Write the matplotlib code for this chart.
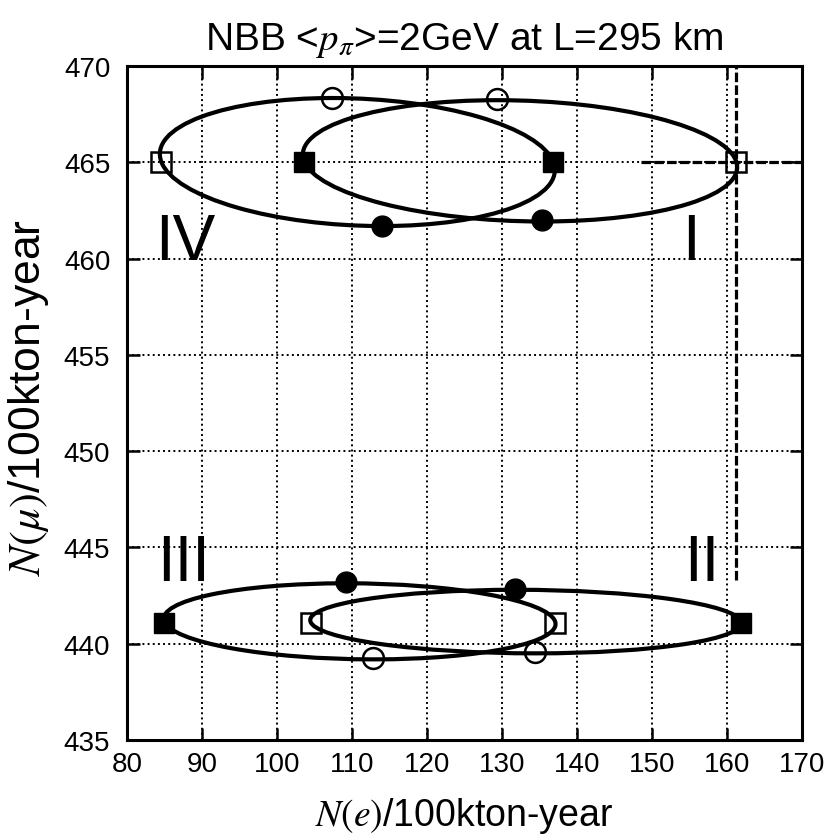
import numpy as np
import matplotlib.pyplot as plt
from matplotlib.patches import Circle
from matplotlib.transforms import Affine2D

plt.rcParams['font.family'] = ['Liberation Sans', 'DejaVu Sans']
plt.rcParams['mathtext.fontset'] = 'stix'

# four delta points of each ellipse
names = ['I', 'II', 'III', 'IV']
open_sq_x = [161.2, 104.5, 137.1, 84.6]
open_sq_y = [465.0, 441.1, 441.1, 465.0]
fill_sq_x = [103.6, 161.9, 85.0, 136.85]
fill_sq_y = [465.0, 441.1, 441.1, 465.0]
open_ci_x = [129.4, 134.45, 112.85, 107.4]
open_ci_y = [468.3, 439.55, 439.25, 468.35]
fill_ci_x = [135.4, 131.8, 109.15, 114.0]
fill_ci_y = [462.0, 442.85, 443.2, 461.7]

# label positions of the roman numerals
label_x = [154.0, 154.3, 84.0, 83.8]
label_y = [460.0, 443.3, 443.3, 460.0]

# dashed cross at the true point
cross_x = 161.2
cross_y = 465.0
cross_hx0 = 148.5
cross_vy0 = 443.3

fig = plt.figure(figsize=(8.29, 8.37), dpi=100)
ax = fig.add_axes([127/829, 1-741/837, 675/829, 674/837])
ax.set_xlim(80, 170)
ax.set_ylim(435, 470)
ax.set_xticks(np.arange(80, 171, 10))
ax.set_yticks(np.arange(435, 471, 5))
ax.grid(True, color='black', linestyle=':', linewidth=1.4)
ax.set_axisbelow(True)
ax.tick_params(direction='in', length=9, width=1.8, top=True, right=True,
               labelsize=20)
ax.tick_params(axis='y', pad=12)
ax.tick_params(axis='x', pad=8)
for sp in ax.spines.values():
    sp.set_linewidth(2.2)

for i in range(4):
    osq = np.array([open_sq_x[i], open_sq_y[i]])
    fsq = np.array([fill_sq_x[i], fill_sq_y[i]])
    oci = np.array([open_ci_x[i], open_ci_y[i]])
    fci = np.array([fill_ci_x[i], fill_ci_y[i]])
    c = (osq + fsq + oci + fci) / 4
    a = (osq - fsq) / 2
    b = (oci - fci) / 2
    m = Affine2D(np.array([[a[0], b[0], c[0]], [a[1], b[1], c[1]], [0, 0, 1]]))
    ax.add_patch(Circle((0, 0), 1, fill=False, edgecolor='black', linewidth=3,
                        transform=m + ax.transData, zorder=3))

ms = 15
ax.plot(open_sq_x, open_sq_y, 's', ms=ms, mfc='none', mec='black', mew=1.8, zorder=4)
ax.plot(fill_sq_x, fill_sq_y, 's', ms=ms, mfc='black', mec='black', zorder=4)
ax.plot(open_ci_x, open_ci_y, 'o', ms=ms, mfc='none', mec='black', mew=1.8, zorder=4)
ax.plot(fill_ci_x, fill_ci_y, 'o', ms=ms, mfc='black', mec='black', zorder=4)

ax.plot([cross_hx0, 170], [cross_y, cross_y], color='black', lw=2.3,
        linestyle=(0, (3, 1)), zorder=2)
ax.plot([cross_x, cross_x], [cross_vy0, 470], color='black', lw=2.3,
        linestyle=(0, (3, 1)), zorder=2)

for n, x, y in zip(names, label_x, label_y):
    ax.text(x, y, n, fontsize=46, ha='left', va='baseline', zorder=5)

fig.text(464/829, 1-50/837, r'NBB <$p_\pi$>=2GeV at L=295 km', ha='center',
         va='baseline', fontsize=28)
fig.text(464/829, 1-826/837, r'$N(e)$/100kton-year', ha='center',
         va='baseline', fontsize=27)
fig.text(29/829, 1-398/837, r'$N(\mu)$/100kton-year', ha='center',
         va='center', rotation=90, fontsize=32)

fig.savefig('out.png', dpi=100)
